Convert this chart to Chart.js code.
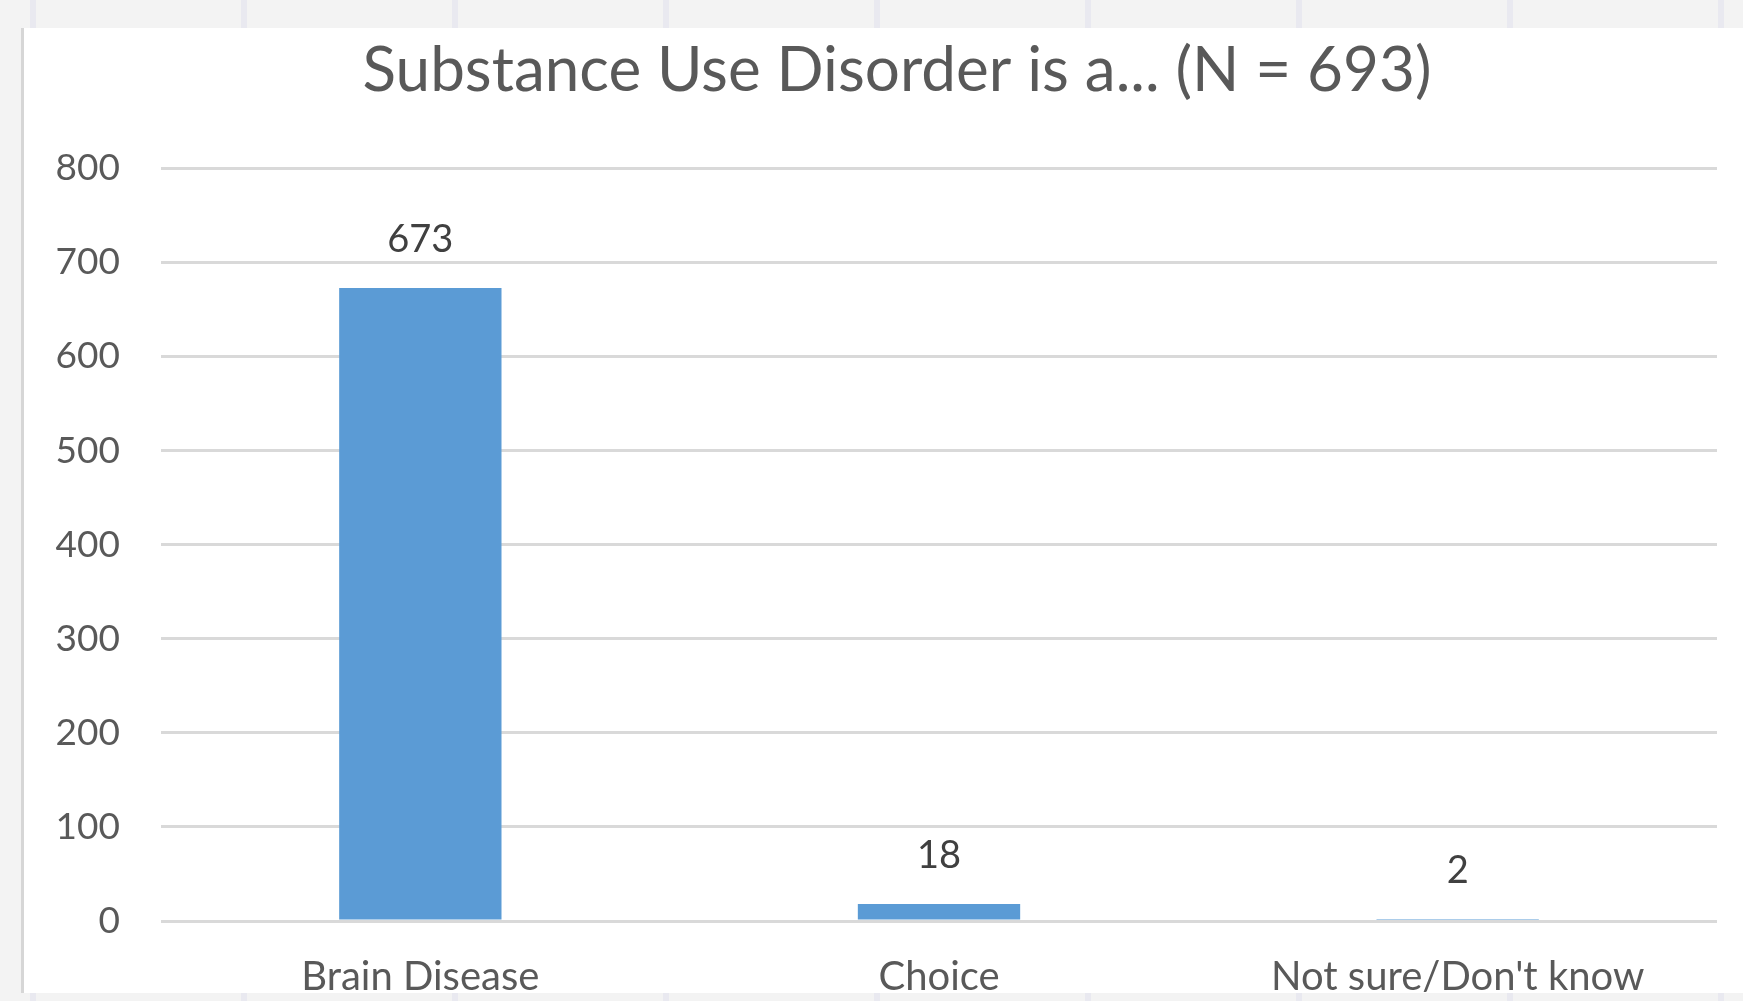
<!DOCTYPE html>
<html>
<head>
<meta charset="utf-8">
<script src="https://cdn.jsdelivr.net/npm/chart.js@4.4.1/dist/chart.umd.min.js"></script>
<style>
  html, body { margin: 0; padding: 0; }
  body {
    width: 1743px; height: 1001px; overflow: hidden;
    background-color: #f3f3f3;
    background-image: repeating-linear-gradient(to right, transparent 0 30px, #e9e9f0 30px 36px, transparent 36px 211px);
    position: relative;
  }
  #panel {
    position: absolute; left: 21px; top: 28px;
    width: 1722px; height: 965px;
    background: #ffffff;
    border-left: 3px solid #d6d6d6;
  }
</style>
</head>
<body>
<div id="panel"><canvas id="grafico" width="1693" height="965"></canvas></div>
<script>
var categorias = ['Brain Disease', 'Choice', "Not sure/Don't know"];
var respostas = [673, 18, 2];
var ticksY = [0, 100, 200, 300, 400, 500, 600, 700, 800];
var titulo = 'Substance Use Disorder is a... (N = 693)';

var fonte = 'Lato, "Open Sans", sans-serif';

// escreve o valor em cima de cada barra
var rotulos = {
	id : 'rotulos',
	afterDatasetsDraw : function(chart) {
		var ctx = chart.ctx;
		var meta = chart.getDatasetMeta(0);
		ctx.save();
		ctx.font = '38px ' + fonte;
		ctx.fillStyle = '#404040';
		ctx.textAlign = 'center';
		ctx.textBaseline = 'middle';
		meta.data.forEach(function(bar, i) {
			ctx.fillText(String(respostas[i]), bar.x, bar.y - 48);
		});
		ctx.restore();
	}
};

// no original o titulo fica um pouco mais para a direita
var deslocaTitulo = {
	id : 'deslocaTitulo',
	afterLayout : function(chart) {
		if (chart.titleBlock) {
			chart.titleBlock.left += 53;
		}
	}
};

var canvas = document.getElementById('grafico');

var chart = new Chart(canvas, {
	type : 'bar',
	data : {
		labels : categorias,
		datasets : [ {
			label : 'Respostas',
			data : respostas,
			backgroundColor : '#5b9bd5',
			borderWidth : 0,
			categoryPercentage : 1,
			barPercentage : 0.313
		} ]
	},
	options : {
		responsive : false,
		animation : false,
		layout : {
			padding : { left : 0, right : 0, top : 0, bottom : 0 }
		},
		plugins : {
			legend : { display : false },
			tooltip : { enabled : false },
			title : {
				display : true,
				text : titulo,
				color : '#595959',
				font : { family : fonte, size : 62, weight : 'normal' },
				padding : { top : 6, bottom : 60 }
			}
		},
		scales : {
			x : {
				grid : { display : false, drawTicks : false },
				border : { display : false },
				ticks : {
					color : '#595959',
					font : { family : fonte, size : 40 },
					padding : 32,
					maxRotation : 0
				},
				afterFit : function(scale) { scale.height = 72; }
			},
			y : {
				min : 0,
				max : 800,
				afterBuildTicks : function(scale) {
					scale.ticks = ticksY.map(function(v) { return { value : v }; });
				},
				grid : { color : '#d9d9d9', lineWidth : 3, drawTicks : false },
				border : { display : false },
				ticks : {
					color : '#595959',
					font : { family : fonte, size : 37 },
					padding : 41
				},
				afterFit : function(scale) { scale.width = 137; }
			}
		}
	},
	plugins : [ rotulos, deslocaTitulo ]
});
</script>
</body>
</html>
